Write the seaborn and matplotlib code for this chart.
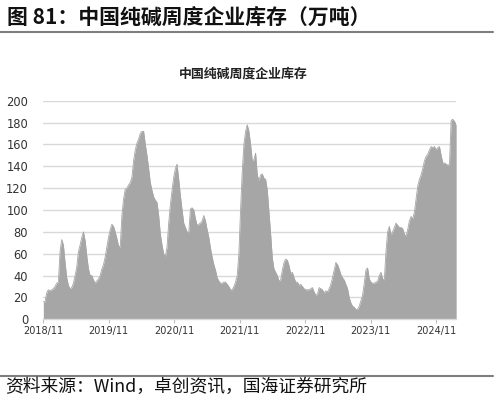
import numpy as np
import pandas as pd
import matplotlib
matplotlib.use('Agg')
import matplotlib.pyplot as plt
import matplotlib.dates as mdates
import seaborn as sns

# weekly-ish soda ash inventory (10k tonnes)
stock_2018_2021 = [16, 16, 24, 27, 26, 27, 28, 30, 33, 34, 62, 73, 68, 52, 38, 31, 28, 29, 33, 40,
                   48, 62, 68, 75, 80, 72, 58, 46, 40, 40, 36, 33, 35, 37, 40, 46, 50, 57, 66, 75,
                   82, 87, 85, 80, 74, 67, 66, 95, 110, 119, 120, 123, 125, 130, 145, 155, 161, 165, 170, 172,
                   172, 160, 150, 138, 125, 118, 112, 109, 107, 95, 78, 68, 60, 57, 66, 88, 105, 118, 130, 138,
                   142, 128, 113, 100, 88, 84, 80, 79, 101, 102, 100, 92, 86, 87, 88, 90, 95, 90, 82, 75,
                   65, 57, 50, 45, 38, 35, 33, 33, 34, 34, 32, 30, 27, 27, 30, 34, 40, 60, 100, 135,
                   160, 172]
stock_2021_2025 = [178, 172, 160, 145, 146, 152, 132, 127, 132, 133, 129, 128, 118, 98, 78, 56, 46, 43, 40, 35,
                   36, 45, 52, 55, 54, 49, 42, 43, 38, 34, 34, 31, 32, 30, 28, 27, 27, 27, 28, 29,
                   25, 22, 23, 29, 28, 27, 24, 26, 25, 28, 32, 38, 45, 52, 50, 46, 41, 38, 36, 32,
                   28, 20, 15, 12, 11, 9, 9, 12, 17, 22, 33, 45, 47, 37, 34, 33, 33, 34, 35, 40,
                   43, 37, 36, 62, 80, 85, 77, 80, 84, 88, 86, 84, 84, 83, 78, 76, 82, 90, 94, 92,
                   98, 110, 122, 128, 132, 138, 145, 149, 151, 155, 158, 157, 158, 155, 157, 158, 150, 143, 143, 142,
                   141, 142, 182, 183, 181, 178]
start_date = '2018-11-01'
end_date = '2025-02-21'

stock = stock_2018_2021 + stock_2021_2025
df = pd.DataFrame({'date': pd.date_range(start_date, end_date, periods=len(stock)),
                   'stock': stock})

sns.set_theme(style='white')
plt.rcParams['font.family'] = ['DejaVu Sans', 'Noto Sans CJK SC']
cjk = ['Noto Sans CJK SC', 'DejaVu Sans']

fig = plt.figure(figsize=(4.98, 4.04), dpi=100)
ax = fig.add_axes([0.087, 0.2097, 0.829, 0.541])

gray = '#a6a6a6'
ax.fill_between(df['date'], 0, df['stock'], color=gray, linewidth=0, zorder=2)
sns.lineplot(x='date', y='stock', data=df, color=gray, linewidth=0.6, ax=ax, zorder=3)

ax.set_xlim(df['date'].iloc[0], df['date'].iloc[-1])
ax.set_ylim(0, 200)
ax.set_yticks(range(0, 201, 20))
ax.yaxis.grid(True, color='#d9d9d9', linewidth=1.0, zorder=0)
ax.set_axisbelow(True)
ax.xaxis.set_major_locator(mdates.MonthLocator(bymonth=11))
ax.xaxis.set_major_formatter(mdates.DateFormatter('%Y/%m'))
ax.tick_params(axis='x', bottom=True, length=3, width=0.8, labelsize=7, pad=2, labelcolor='#333333', color='#bfbfbf')
ax.tick_params(axis='y', left=False, labelsize=8.3, pad=5, labelcolor='#333333')
for s in ['top', 'right', 'left']:
    ax.spines[s].set_visible(False)
ax.spines['bottom'].set_color('#d9d9d9')
ax.spines['bottom'].set_linewidth(1.0)
ax.set_xlabel('')
ax.set_ylabel('')

fig.text(0.489, 0.819, '中国纯碱周度企业库存', family=cjk, fontsize=9.3, fontweight='bold',
         ha='center', va='center', color='#222222')

fig.text(0.014, 0.958, '图 81：中国纯碱周度企业库存（万吨）', family=cjk, fontsize=15,
         fontweight='bold', ha='left', va='center', color='#111111')
fig.add_artist(plt.Line2D([0, 0.99], [0.921, 0.921], color='#7f7f7f', linewidth=1.5))
fig.add_artist(plt.Line2D([0, 0.99], [0.07, 0.07], color='#7f7f7f', linewidth=1.5))
fig.text(0.01, 0.042, '资料来源：Wind，卓创资讯，国海证券研究所', family=cjk, fontsize=12.8,
         ha='left', va='center', color='#111111')

fig.savefig('out.png', dpi=100)
